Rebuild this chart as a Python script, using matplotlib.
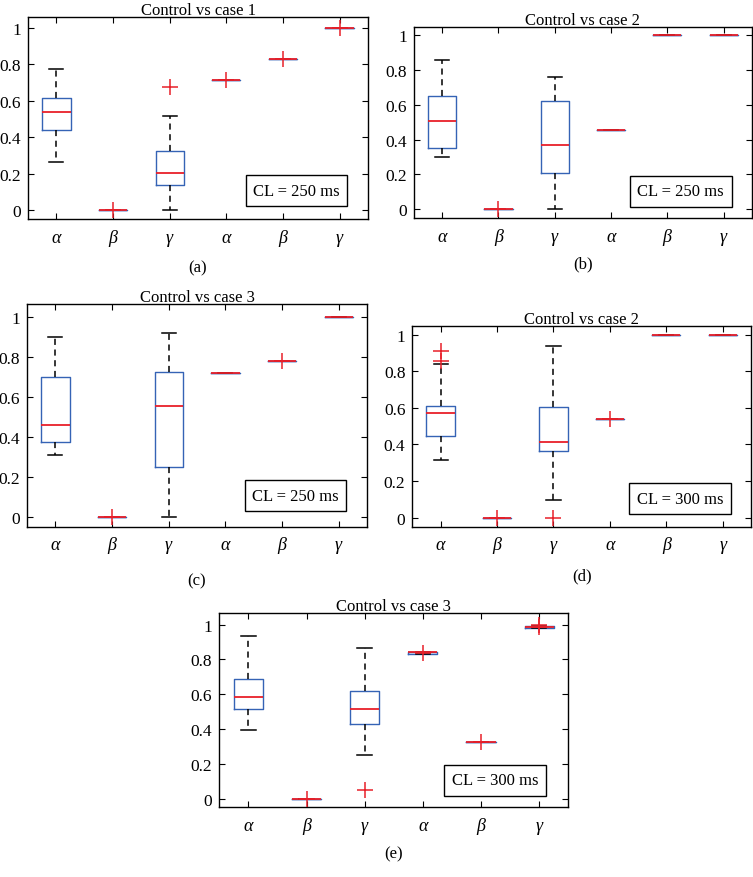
import matplotlib
matplotlib.use("Agg")
import matplotlib.pyplot as plt

plt.rcParams['font.family'] = ['Liberation Serif', 'DejaVu Serif']
plt.rcParams['font.size'] = 12

tick_labels = ['α', 'β', 'γ', 'α', 'β', 'γ']

# (a) Control vs case 1, CL = 250 ms
a_med = [0.54, 0.0, 0.205, 0.713, 0.831, 1.0]
a_q1 = [0.438, 0.0, 0.138, 0.713, 0.831, 1.0]
a_q3 = [0.613, 0.0, 0.324, 0.713, 0.831, 1.0]
a_lo = [0.264, 0.0, 0.0, 0.713, 0.831, 1.0]
a_hi = [0.773, 0.0, 0.515, 0.713, 0.831, 1.0]
a_fl = [[], [0.0], [0.673], [0.713], [0.831], [1.0]]

# (b) Control vs case 2, CL = 250 ms
b_med = [0.507, 0.0, 0.367, 0.453, 1.0, 1.0]
b_q1 = [0.354, 0.0, 0.21, 0.453, 1.0, 1.0]
b_q3 = [0.654, 0.0, 0.621, 0.453, 1.0, 1.0]
b_lo = [0.302, 0.0, 0.0, 0.453, 1.0, 1.0]
b_hi = [0.857, 0.0, 0.763, 0.453, 1.0, 1.0]
b_fl = [[], [0.0], [], [], [], []]

# (c) Control vs case 3, CL = 250 ms
c_med = [0.458, 0.0, 0.557, 0.72, 0.78, 1.0]
c_q1 = [0.373, 0.0, 0.25, 0.72, 0.78, 1.0]
c_q3 = [0.70, 0.0, 0.725, 0.72, 0.78, 1.0]
c_lo = [0.312, 0.0, 0.0, 0.72, 0.78, 1.0]
c_hi = [0.903, 0.0, 0.92, 0.72, 0.78, 1.0]
c_fl = [[], [0.0], [], [], [0.78], []]

# (d) Control vs case 2, CL = 300 ms
d_med = [0.572, 0.0, 0.413, 0.539, 1.0, 1.0]
d_q1 = [0.446, 0.0, 0.366, 0.539, 1.0, 1.0]
d_q3 = [0.61, 0.0, 0.605, 0.539, 1.0, 1.0]
d_lo = [0.313, 0.0, 0.095, 0.539, 1.0, 1.0]
d_hi = [0.843, 0.0, 0.938, 0.539, 1.0, 1.0]
d_fl = [[0.914, 0.858], [0.0], [0.0], [0.539], [], []]

# (e) Control vs case 3, CL = 300 ms
e_med = [0.583, 0.0, 0.512, 0.84, 0.327, 0.987]
e_q1 = [0.514, 0.0, 0.426, 0.832, 0.327, 0.982]
e_q3 = [0.686, 0.0, 0.618, 0.841, 0.327, 0.99]
e_lo = [0.396, 0.0, 0.249, 0.832, 0.327, 0.982]
e_hi = [0.937, 0.0, 0.866, 0.841, 0.327, 0.99]
e_fl = [[], [0.0], [0.048], [0.835], [0.327], [1.0, 0.985]]

panels = [
    ("Control vs case 1", "CL = 250 ms", "(a)", a_med, a_q1, a_q3, a_lo, a_hi, a_fl, 1.06),
    ("Control vs case 2", "CL = 250 ms", "(b)", b_med, b_q1, b_q3, b_lo, b_hi, b_fl, 1.05),
    ("Control vs case 3", "CL = 250 ms", "(c)", c_med, c_q1, c_q3, c_lo, c_hi, c_fl, 1.067),
    ("Control vs case 2", "CL = 300 ms", "(d)", d_med, d_q1, d_q3, d_lo, d_hi, d_fl, 1.05),
    ("Control vs case 3", "CL = 300 ms", "(e)", e_med, e_q1, e_q3, e_lo, e_hi, e_fl, 1.065),
]

rects = [
    [0.0372, 0.7494, 0.4515, 0.2301],
    [0.5498, 0.7506, 0.4485, 0.2179],
    [0.0359, 0.3990, 0.4515, 0.2536],
    [0.5476, 0.3990, 0.4498, 0.2289],
    [0.2912, 0.0794, 0.4635, 0.2210],
]

box_blue = '#3563b5'
red = '#e8202a'

fig = plt.figure(figsize=(7.53, 8.78), dpi=100)

for rect, (title, cl, cap, med, q1, q3, lo, hi, fl, ytop) in zip(rects, panels):
    ax = fig.add_axes(rect)
    stats = []
    for i in range(6):
        stats.append({'med': med[i], 'q1': q1[i], 'q3': q3[i],
                      'whislo': lo[i], 'whishi': hi[i], 'fliers': fl[i]})
    ax.bxp(stats, positions=range(1, 7), widths=0.5, capwidths=0.25,
           boxprops=dict(color=box_blue, linewidth=1.0),
           whiskerprops=dict(color='black', linestyle=(0, (4, 3)), linewidth=1.1),
           capprops=dict(color='black', linewidth=1.1),
           medianprops=dict(color=red, linewidth=1.3, zorder=3),
           flierprops=dict(marker='+', markeredgecolor=red, markersize=12,
                           markeredgewidth=1.1, linestyle='none', zorder=3),
           manage_ticks=False)
    ax.set_xlim(0.5, 6.5)
    ax.set_ylim(-0.05, ytop)
    ax.set_xticks(range(1, 7))
    ax.set_xticklabels(tick_labels, fontstyle='italic', fontsize=13)
    ax.set_yticks([0, 0.2, 0.4, 0.6, 0.8, 1])
    ax.set_yticklabels(['0', '0.2', '0.4', '0.6', '0.8', '1'])
    ax.tick_params(direction='in', top=True, right=True, length=4, labelsize=12.5)
    ax.tick_params(axis='x', labelsize=13, pad=7)
    ax.tick_params(axis='y', pad=5)
    for s in ax.spines.values():
        s.set_linewidth(1.0)
    ax.set_title(title, fontsize=12, pad=2)
    ax.text(0.79, 0.14, cl, transform=ax.transAxes, ha='center', va='center',
            fontsize=12, bbox=dict(boxstyle='square,pad=0.45', fc='white',
                                   ec='black', lw=1.0))
    ax.text(0.5, -0.24, cap, transform=ax.transAxes, ha='center', va='center',
            fontsize=12)

fig.savefig('out.png', dpi=100)
